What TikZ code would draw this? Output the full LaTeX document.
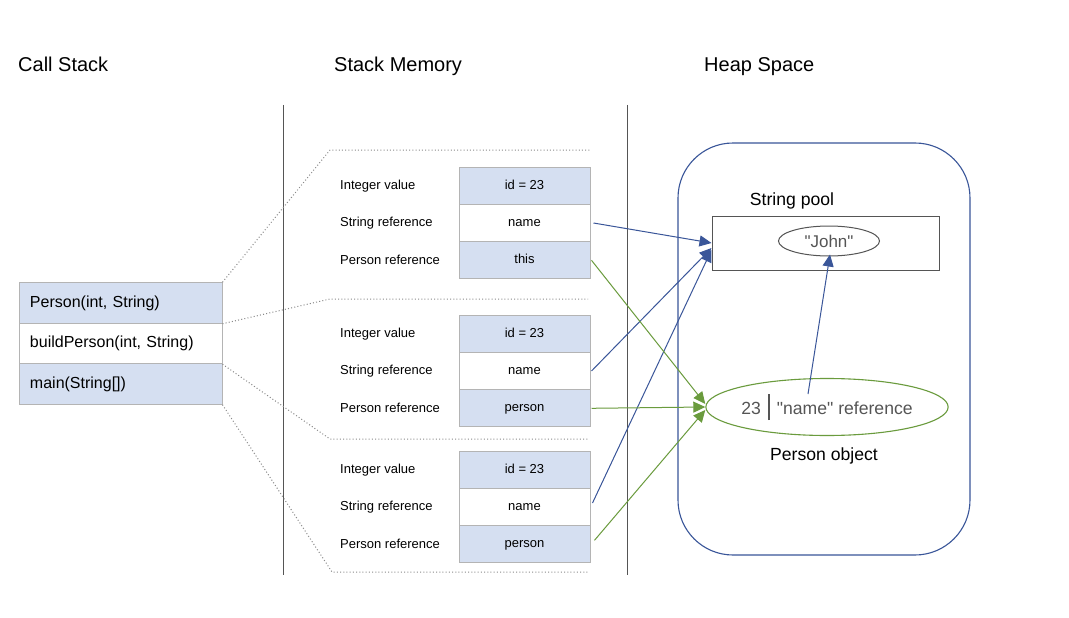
\documentclass[tikz,border=0pt]{standalone}
\usepackage{fontspec}
\setmainfont{Liberation Sans}[Ligatures=TeXOff]
\usetikzlibrary{arrows.meta,shapes.geometric}
\definecolor{cellblue}{HTML}{D5DFF1}
\definecolor{cellborder}{HTML}{B4B4B4}
\definecolor{heapblue}{HTML}{3A5699}
\definecolor{arrgreen}{HTML}{6A9B3D}
\definecolor{graytext}{HTML}{555555}
\definecolor{lineGray}{HTML}{555555}
\definecolor{dotGray}{HTML}{8A8A8A}
\tikzset{
  heading/.style={anchor=base west,inner sep=0pt,font=\fontsize{20}{24}\selectfont},
  csbox/.style={draw=cellborder,line width=1pt,minimum width=203pt,minimum height=40.5pt,
    text width=181pt,align=left,inner xsep=11pt,inner ysep=0pt,font=\fontsize{16}{19}\selectfont},
  cell/.style={draw=cellborder,line width=1pt,minimum width=131pt,minimum height=37.3pt,
    inner sep=0pt,text height=9.5pt,text depth=2.7pt,font=\fontsize{13}{16}\selectfont},
  bluecell/.style={cell,fill=cellblue},
  whitecell/.style={cell,fill=white},
  lbl/.style={anchor=west,inner sep=0pt,font=\fontsize{13}{16}\selectfont},
  heaplbl/.style={inner sep=0pt,font=\fontsize{17.6}{21}\selectfont},
  framedot/.style={draw=dotGray,line width=1pt,dash pattern=on 1pt off 2.2pt},
  divider/.style={draw=lineGray,line width=0.9pt},
  bluearrow/.style={draw=heapblue,line width=1pt,-{Triangle[length=12pt,width=11pt]}},
  greenarrow/.style={draw=arrgreen,line width=1pt,-{Triangle[length=12pt,width=11pt]}},
}
\begin{document}
\begin{tikzpicture}[x=1pt,y=-1pt]
\useasboundingbox (0,0) rectangle (1069,618);
\fill[white] (0,0) rectangle (1069,618);

% headings
\node[heading] (hcs) at (18,71) {Call Stack};
\node[heading] (hsm) at (334,71) {Stack Memory};
\node[heading] (hhs) at (704,71) {Heap Space};

% dividers
\draw[divider] (283,105) -- (283,575);
\draw[divider] (627,105) -- (627,575);

% call stack
\node[csbox,fill=cellblue] (cs1) at (120.5,303) {Person(int, String)};
\node[csbox,fill=white] (cs2) at (120.5,343.5) {buildPerson(int, String)};
\node[csbox,fill=cellblue] (cs3) at (120.5,384) {main(String[])};

% frame outlines
\coordinate (t1) at (330,150);
\coordinate (t1e) at (590,150);
\coordinate (t2) at (330,299);
\coordinate (t2e) at (588,299);
\coordinate (t3) at (330,439);
\coordinate (t3e) at (588,439);
\coordinate (t4) at (332,572);
\coordinate (t4e) at (588,572);
\draw[framedot] (cs1.north east) -- (t1) -- (t1e);
\draw[framedot] (cs1.south east) -- (t2) -- (t2e);
\draw[framedot] (cs2.south east) -- (t3) -- (t3e);
\draw[framedot] (cs3.south east) -- (t4) -- (t4e);

% frame 1
\node[bluecell] (f1a) at (524.5,185.7) {id = 23};
\node[whitecell] (f1b) at (524.5,223) {name};
\node[bluecell] (f1c) at (524.5,260.3) {this};
\node[lbl] (l1a) at (340,185.7) {Integer value};
\node[lbl] (l1b) at (340,223) {String reference};
\node[lbl] (l1c) at (340,260.3) {Person reference};

% frame 2
\node[bluecell] (f2a) at (524.5,333.7) {id = 23};
\node[whitecell] (f2b) at (524.5,371) {name};
\node[bluecell] (f2c) at (524.5,408.3) {person};
\node[lbl] (l2a) at (340,333.7) {Integer value};
\node[lbl] (l2b) at (340,371) {String reference};
\node[lbl] (l2c) at (340,408.3) {Person reference};

% frame 3
\node[bluecell] (f3a) at (524.5,469.7) {id = 23};
\node[whitecell] (f3b) at (524.5,507) {name};
\node[bluecell] (f3c) at (524.5,544.3) {person};
\node[lbl] (l3a) at (340,469.7) {Integer value};
\node[lbl] (l3b) at (340,507) {String reference};
\node[lbl] (l3c) at (340,544.3) {Person reference};

% heap
\node[draw=heapblue,line width=1.1pt,rounded corners=55pt,minimum width=292pt,minimum height=412pt] (heap) at (824,349) {};
\node[heaplbl] (poollbl) at (792,201) {String pool};
\node[draw=lineGray,line width=1pt,minimum width=227pt,minimum height=54pt,inner sep=0pt] (pool) at (825.5,243) {};
\node[ellipse,draw=lineGray,line width=1pt,minimum width=101pt,minimum height=30pt,inner sep=0pt,
  text=graytext,font=\fontsize{17}{20}\selectfont] (john) at (829,241) {"John"};
\node[ellipse,draw=arrgreen,line width=1.1pt,minimum width=233pt,minimum height=57pt,inner sep=0pt,
  text=graytext,font=\fontsize{17.6}{21}\selectfont] (person) at (827,407)
  {23\hspace{7pt}{\color{graytext}\rule[-6pt]{2pt}{26pt}}\hspace{7pt}"name" reference};
\node[heaplbl] (personlbl) at (824,456) {Person object};
\coordinate (namefield) at (808,394);

% arrows
\draw[bluearrow] ([xshift=3pt]f1b.east) -- (pool.west);
\draw[bluearrow] ([xshift=1pt]f2b.east) -- ([yshift=-5pt]pool.west);
\draw[bluearrow] ([xshift=2pt,yshift=4pt]f3b.east) -- ([yshift=-7pt]pool.west);
\draw[greenarrow] ([xshift=1pt]f1c.east) -- ([yshift=3pt]person.west);
\draw[greenarrow] ([xshift=1pt]f2c.east) -- (person.west);
\draw[greenarrow] ([xshift=4pt,yshift=4pt]f3c.east) -- ([yshift=-3pt]person.west);
\draw[bluearrow] (namefield) -- ([xshift=1pt,yshift=2pt]john.south);
\end{tikzpicture}
\end{document}
